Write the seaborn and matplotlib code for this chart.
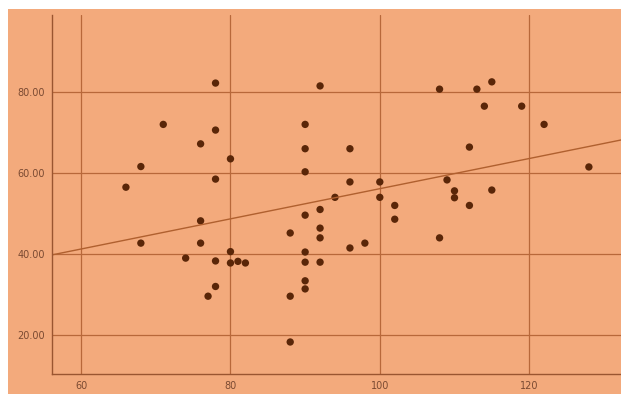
import numpy as np
import pandas as pd
import seaborn as sns
import matplotlib.pyplot as plt
from matplotlib.patches import Rectangle
from matplotlib.ticker import FormatStrFormatter

# values
x_vals = [66, 68, 68, 71, 74, 76, 76, 76, 77, 78, 78, 78, 78, 78,
          80, 80, 80, 81, 82, 88, 88, 88,
          90, 90, 90, 90, 90, 90, 90, 90,
          92, 92, 92, 92, 92, 94, 96, 96, 96, 98,
          100, 100, 102, 102, 108, 108, 109, 110, 110, 112, 112,
          113, 114, 115, 115, 119, 122, 128]
y_vals = [56.5, 61.6, 42.7, 72.0, 39.0, 67.2, 48.2, 42.7, 29.6, 82.2, 70.6, 58.5, 38.3, 32.0,
          63.5, 40.6, 37.8, 38.2, 37.8, 45.2, 29.6, 18.3,
          72.0, 66.0, 60.3, 49.6, 40.5, 38.0, 33.4, 31.4,
          81.5, 51.0, 46.4, 44.0, 38.0, 54.0, 66.0, 57.8, 41.5, 42.7,
          57.8, 54.0, 52.0, 48.6, 80.7, 44.0, 58.3, 55.6, 53.9, 66.4, 52.0,
          80.7, 76.5, 82.5, 55.8, 76.5, 72.0, 61.5]
x_ticks = [60, 80, 100, 120]
y_ticks = [20, 40, 60, 80]

df = pd.DataFrame({'x': x_vals, 'y': y_vals})

bg = '#f3aa7c'
grid_col = '#b8683a'
sns.set_style('whitegrid', {'axes.facecolor': bg, 'grid.color': grid_col,
                            'axes.edgecolor': '#9a5530'})

fig = plt.figure(figsize=(6.21, 3.94), dpi=100)
fig.patch.set_facecolor('white')
fig.patches.append(Rectangle((8 / 621, 0), 1, 385 / 394, transform=fig.transFigure,
                             facecolor=bg, edgecolor='none', zorder=-10))

ax = fig.add_axes([52 / 621, 20 / 394, 569 / 621, 359 / 394])
ax.set_xlim(56.1, 132.3)
ax.set_ylim(10.4, 99.0)

sns.regplot(data=df, x='x', y='y', ax=ax, ci=None, truncate=False,
            scatter_kws={'s': 28, 'color': '#5a2608', 'edgecolor': 'none', 'alpha': 1},
            line_kws={'color': '#b0602f', 'linewidth': 1.0})

ax.set_xticks(x_ticks)
ax.set_yticks(y_ticks)
ax.yaxis.set_major_formatter(FormatStrFormatter('%.2f'))
ax.tick_params(length=0, labelsize=7, colors='#7a4a32', pad=5)
ax.grid(True, linewidth=0.9, color=grid_col)
ax.set_xlabel('')
ax.set_ylabel('')
for side in ['top', 'right']:
    ax.spines[side].set_visible(False)
for side in ['left', 'bottom']:
    ax.spines[side].set_color('#9a5530')
    ax.spines[side].set_linewidth(1.0)

fig.savefig('out.png', dpi=100, facecolor=fig.get_facecolor())
